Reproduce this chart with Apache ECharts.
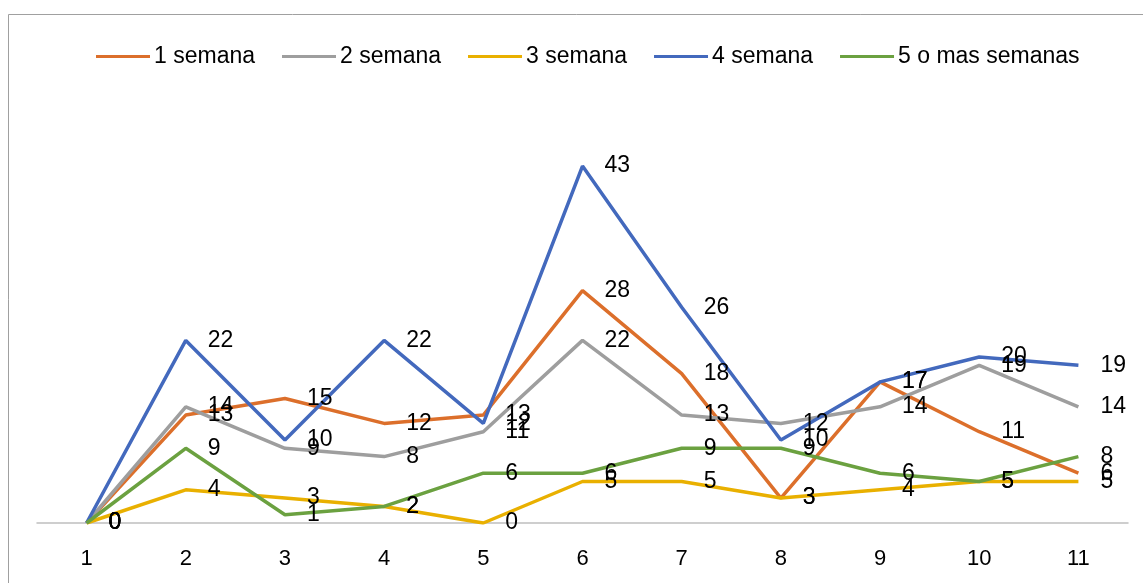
<!DOCTYPE html>
<html>
<head>
<meta charset="utf-8">
<script src="https://cdn.jsdelivr.net/npm/echarts@6/dist/echarts.min.js"></script>
<style>
html,body{margin:0;padding:0;background:#fff;}
#c{width:1143px;height:583px;}
</style>
</head>
<body>
<div id="c"></div>
<script>
const categories = ['1','2','3','4','5','6','7','8','9','10','11'];
const seriesNames = ['1 semana','2 semana','3 semana','4 semana','5 o mas semanas'];
const semana1 = [0, 13, 15, 12, 13, 28, 18, 3, 17, 11, 6];
const semana2 = [0, 14, 9, 8, 11, 22, 13, 12, 14, 19, 14];
const semana3 = [0, 4, 3, 2, 0, 5, 5, 3, 4, 5, 5];
const semana4 = [0, 22, 10, 22, 12, 43, 26, 10, 17, 20, 19];
const semana5 = [0, 9, 1, 2, 6, 6, 9, 9, 6, 5, 8];
const colors = ['#DC6F2B', '#9E9E9E', '#E9B000', '#4369BD', '#6BA140'];

const FONT = 'Liberation Sans';
const allData = [semana1, semana2, semana3, semana4, semana5];

const chart = echarts.init(document.getElementById('c'), null, {renderer: 'canvas'});
chart.setOption({
  animation: false,
  backgroundColor: '#fff',
  color: colors,
  textStyle: {fontFamily: FONT},
  graphic: [{
    type: 'rect',
    shape: {x: 8.5, y: 14.5, width: 1200, height: 700},
    style: {fill: 'none', stroke: '#a0a0a0', lineWidth: 1},
    silent: true
  }],
  legend: {
    top: 40,
    left: 91,
    itemWidth: 54,
    itemHeight: 3,
    itemGap: 27,
    icon: 'rect',
    textStyle: {fontFamily: FONT, fontSize: 23, color: '#000', padding: [0, 0, 0, -1]},
    data: seriesNames
  },
  grid: {left: 37, right: 15, top: 108, bottom: 60, containLabel: false},
  xAxis: {
    type: 'category',
    data: categories,
    boundaryGap: true,
    axisLine: {lineStyle: {color: '#bfbfbf', width: 1.5}},
    axisTick: {show: false},
    axisLabel: {fontFamily: FONT, fontSize: 22, color: '#000', margin: 25}
  },
  yAxis: {
    type: 'value',
    min: 0,
    max: 50,
    interval: 10,
    show: false,
    splitLine: {show: false}
  },
  series: allData.map((d, i) => ({
    name: seriesNames[i],
    type: 'line',
    data: d,
    symbol: 'circle',
    symbolSize: 0,
    showSymbol: true,
    lineStyle: {width: 3.5, color: colors[i]},
    itemStyle: {color: colors[i]},
    label: {
      show: true,
      position: 'right',
      distance: 22,
      offset: [0, 4],
      fontFamily: FONT,
      fontSize: 23,
      color: '#000'
    },
    labelLayout: {hideOverlap: false}
  }))
});
</script>
</body>
</html>
